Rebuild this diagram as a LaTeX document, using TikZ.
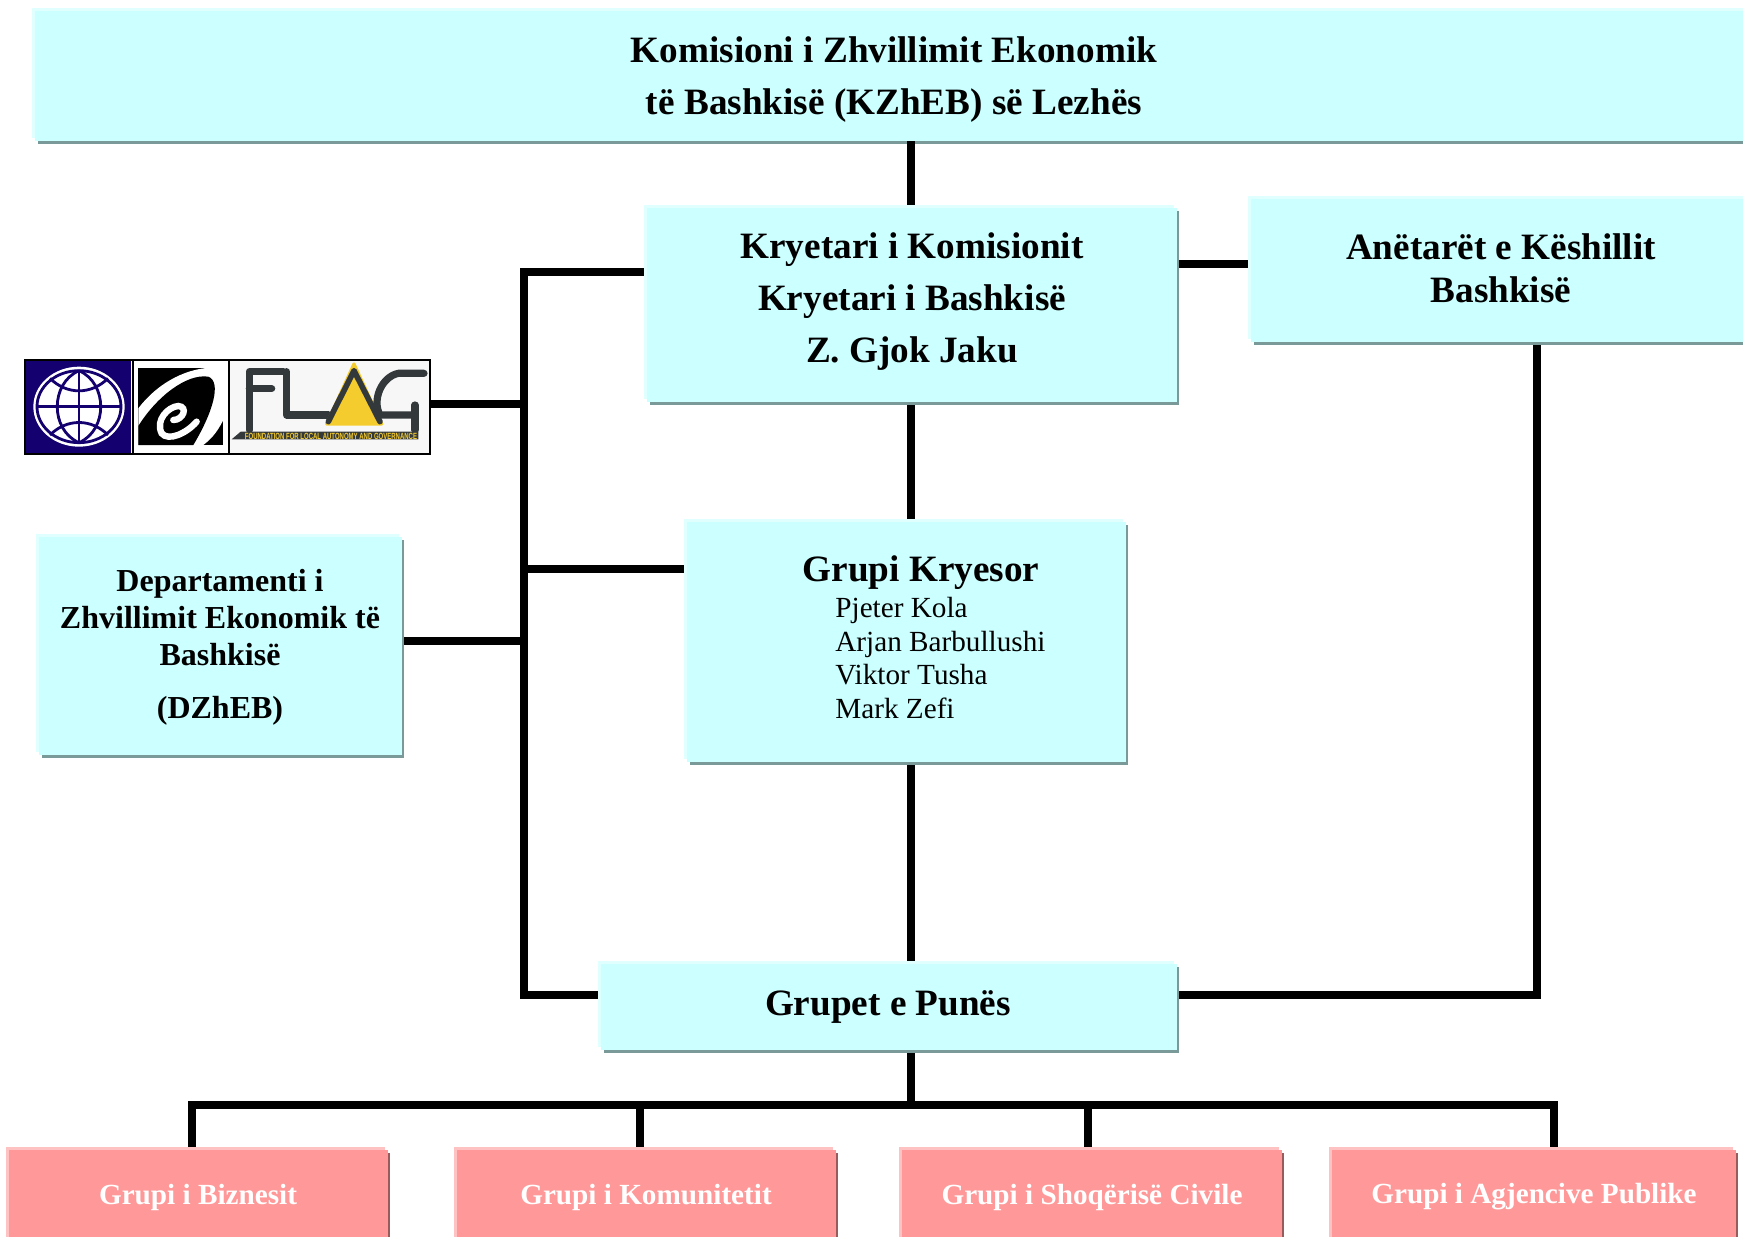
\documentclass[tikz,border=0pt]{standalone}
\usepackage{fontspec}
\usepackage{graphicx}
\setmainfont{Liberation Serif}
\newfontfamily\logofont{Liberation Sans}
\definecolor{cyanfill}{HTML}{CCFFFF}
\definecolor{cyanhigh}{HTML}{E0FFFF}
\definecolor{cyanshade}{HTML}{7A9999}
\definecolor{pinkfill}{HTML}{FF9999}
\definecolor{pinkhigh}{HTML}{FFC2C2}
\definecolor{pinkshade}{HTML}{995C5C}
\definecolor{wbblue}{HTML}{14006E}
\definecolor{flagdark}{HTML}{33383A}
\definecolor{flagyellow}{HTML}{F5CC2E}
\definecolor{flaggrey}{HTML}{F7F7F7}
\tikzset{
  chigh/.style={fill=cyanhigh}, cshade/.style={fill=cyanshade}, cmain/.style={fill=cyanfill},
  phigh/.style={fill=pinkhigh}, pshade/.style={fill=pinkshade}, pmain/.style={fill=pinkfill},
  link/.style={line width=3.9pt,line cap=butt,line join=miter,black},
  title/.style={font=\fontsize{18.6}{26}\selectfont\bfseries,align=center,inner sep=0pt},
  subtitle/.style={font=\fontsize{18.6}{21.5}\selectfont\bfseries,align=center,inner sep=0pt},
  pinklabel/.style={font=\fontsize{14.6}{17}\selectfont\bfseries,text=white,inner sep=0pt},
  plainname/.style={font=\fontsize{14.6}{16.8}\selectfont,align=left,inner sep=0pt,anchor=west},
  depfont/.style={font=\fontsize{16}{18.3}\selectfont\bfseries,align=center,inner sep=0pt},
  logostroke/.style={flagdark,line width=3.6pt,line cap=round,line join=round},
  globeline/.style={wbblue,line width=1.4pt},
}
% name, x1, y1, x2, y2, colour prefix
\newcommand{\shbox}[6]{%
  \fill[#6high] (#2-3,#3-3) rectangle (#4-3,#5-3);
  \fill[#6shade] (#2+3,#3+3) rectangle (#4+2,#5+3);
  \node[#6main,inner sep=0pt,minimum width={(#4-#2)*0.5pt},minimum height={(#5-#3)*0.5pt}] (#1) at ({(#2+#4)/2},{(#3+#5)/2}) {};
}
\begin{document}
\begin{tikzpicture}[x=0.5pt,y=-0.5pt]
\path[use as bounding box] (0,0) rectangle (1743,1236);
\clip (0,0) rectangle (1743,1236);
\fill[white] (0,0) rectangle (1743,1236);

\shbox{top}{35}{11}{1760}{141}{c}
\shbox{kry}{647}{208}{1177}{402}{c}
\shbox{ane}{1251}{199}{1760}{342}{c}
\shbox{gk}{687}{522}{1126}{762}{c}
\shbox{dep}{39}{537}{402}{755}{c}
\shbox{pun}{601}{964}{1177}{1050}{c}
\shbox{pa}{9}{1150}{388}{1250}{p}
\shbox{pb}{457}{1150}{836}{1250}{p}
\shbox{pc}{902}{1150}{1282}{1250}{p}
\shbox{pd}{1332}{1150}{1736}{1250}{p}

% logo panels
\node[fill=wbblue,inner sep=0pt,minimum width=53pt,minimum height=47pt] (lwb) at (78,407) {};
\node[fill=white,inner sep=0pt,minimum width=47pt,minimum height=47pt] (lsp) at (181,407) {};
\node[fill=flaggrey,inner sep=0pt,minimum width=100pt,minimum height=47pt] (lfl) at (330,407) {};
\draw[line width=1pt] (25,360) rectangle (430,454);
\draw[line width=1pt] (132.5,360) -- (132.5,454) (229,360) -- (229,454);

\begin{scope}[shift={(0,340)},xscale=1/3,yscale=1/3]
  % globe
  \fill[white] (237,200) ellipse [x radius=137,y radius=120];
  \draw[globeline] (237,200) ellipse [x radius=126,y radius=108];
  \draw[globeline] (237,95) -- (237,305) (111,200) -- (363,200);
  \draw[globeline] (237,92) .. controls (150,130) and (150,270) .. (237,308);
  \draw[globeline] (237,92) .. controls (324,130) and (324,270) .. (237,308);
  \draw[globeline] (150,115) .. controls (200,165) and (274,165) .. (324,115);
  \draw[globeline] (150,285) .. controls (200,235) and (274,235) .. (324,285);
  % spiral
  \fill[black] (415,83) rectangle (670,315);
  \fill[white] (415,205) .. controls (480,120) and (570,83) .. (640,83) -- (670,83) -- (670,240) .. controls (650,280) and (630,300) .. (610,315) -- (415,315) -- cycle;
  \fill[black] (415,258) .. controls (470,170) and (560,100) .. (625,110) .. controls (665,125) and (640,215) .. (580,315) -- (415,315) -- cycle;
  \draw[white,line width=3.2pt,line cap=round] (590,245) .. controls (560,280) and (505,305) .. (485,280) .. controls (465,240) and (505,200) .. (535,198) .. controls (565,200) and (550,240) .. (520,240);
  % FLAG
  \fill[flagdark] (695,298) -- (722,275) -- (1255,275) -- (1255,298) -- cycle;
  \draw[logostroke] (850,95) -- (748,95) -- (748,270) (748,146) -- (815,146);
  \draw[logostroke] (860,95) -- (860,225) -- (985,225);
  \draw[flagyellow,fill=flagyellow,line width=1.6pt,line join=round] (1062,72) -- (1145,252) -- (980,252) -- cycle;
  \draw[logostroke,line width=2.8pt] (985,245) -- (1062,92) -- (1140,245);
  \draw[logostroke] (1272,100) -- (1195,100) .. controls (1145,110) and (1115,180) .. (1140,225) -- (1245,225);
  \draw[logostroke] (1245,195) -- (1245,270);
  \node[inner sep=0pt,text=flagyellow,font=\logofont\fontsize{3.0}{3}\selectfont\bfseries] (flagtext) at (993,288) {\scalebox{1}[1.5]{FOUNDATION FOR LOCAL AUTONOMY AND GOVERNANCE}};
\end{scope}

% connectors
\coordinate (busT) at (524,272);
\coordinate (busB) at (524,995);
\coordinate (busL) at (524,404);
\coordinate (busD) at (524,641);
\coordinate (busG) at (524,569);
\coordinate (rightB) at (1537,995);
\coordinate (hubL) at (192,1105);
\coordinate (hubR) at (1554,1105);
\coordinate (spine) at (911,1105);
\coordinate (hubB) at (640,1105);
\coordinate (hubC) at (1088,1105);
\coordinate (aneY) at (1200,264);
\draw[link] (spine |- top.south) -- ([yshift=1.5pt]spine |- kry.north);
\draw[link] ([yshift=-1.5pt]spine |- kry.south) -- ([yshift=1.5pt]spine |- gk.north);
\draw[link] ([yshift=-1.5pt]spine |- gk.south) -- ([yshift=1.5pt]spine |- pun.north);
\draw[link] ([yshift=-1.5pt]spine |- pun.south) -- (spine);
\draw[link] ([xshift=1pt]kry.east |- aneY) -- ([xshift=-1.5pt]ane.west |- aneY);
\draw[link] ([xshift=-1.5pt]kry.west |- busT) -- (busT) -- (busB) -- ([xshift=-1.5pt]pun.west |- busB);
\draw[link] (lfl.east |- busL) -- (busL);
\draw[link] ([xshift=1pt]dep.east |- busD) -- (busD);
\draw[link] ([xshift=-1.5pt]gk.west |- busG) -- (busG);
\draw[link] ([xshift=1pt]pun.east |- rightB) -- (rightB) -- ([yshift=-1.5pt]rightB |- ane.south);
\draw[link] ([yshift=1.5pt]hubL |- pa.north) -- (hubL) -- (hubR) -- ([yshift=1.5pt]hubR |- pd.north);
\draw[link] (hubB) -- ([yshift=1.5pt]hubB |- pb.north);
\draw[link] (hubC) -- ([yshift=1.5pt]hubC |- pc.north);

% text
\node[title] (ttop) at (894,80) {Komisioni i Zhvillimit Ekonomik\\të Bashkisë (KZhEB) së Lezhës};
\node[title] (tkry) at (912,302) {Kryetari i Komisionit\\Kryetari i Bashkisë\\Z. Gjok Jaku};
\node[subtitle] (tane) at (1501,268) {Anëtarët e Këshillit\\Bashkisë};
\node[title] (tgk) at (921,573) {Grupi Kryesor};
\node[plainname] (tnames) at (835,658) {Pjeter Kola\\Arjan Barbullushi\\Viktor Tusha\\Mark Zefi};
\node[title] (tpun) at (888,1007) {Grupet e Punës};
\node[depfont] (tdep) at (220,617.5) {Departamenti i\\Zhvillimit Ekonomik të\\Bashkisë};
\node[depfont] (tdep2) at (220,711) {(DZhEB)};
\node[pinklabel] (tpa) at (198,1197) {Grupi i Biznesit};
\node[pinklabel] (tpb) at (646,1197) {Grupi i Komunitetit};
\node[pinklabel] (tpc) at (1092,1197) {Grupi i Shoqërisë Civile};
\node[pinklabel] (tpd) at (1534,1197) {Grupi i Agjencive Publike};
\end{tikzpicture}
\end{document}
